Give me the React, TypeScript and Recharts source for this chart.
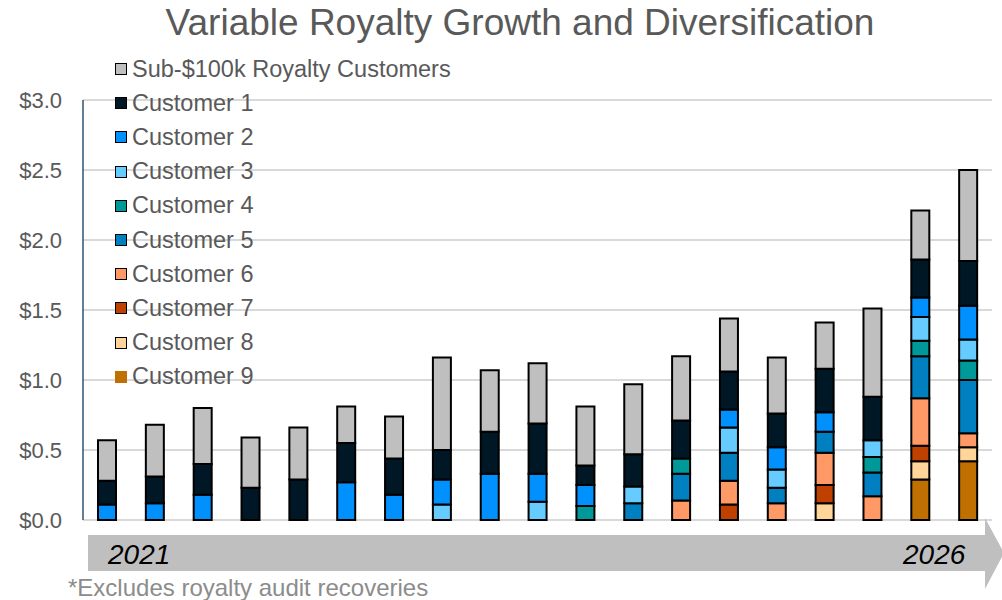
import React from 'react';
import { BarChart, Bar, XAxis, YAxis, CartesianGrid } from 'recharts';

// $M per period, 19 periods from 2021 to 2026
const periods = ['P1', 'P2', 'P3', 'P4', 'P5', 'P6', 'P7', 'P8', 'P9', 'P10', 'P11', 'P12', 'P13', 'P14', 'P15', 'P16', 'P17', 'P18', 'P19'];

const customer9 = [0, 0, 0, 0, 0, 0, 0, 0, 0, 0, 0, 0, 0, 0, 0, 0, 0, 0.29, 0.42];
const customer8 = [0, 0, 0, 0, 0, 0, 0, 0, 0, 0, 0, 0, 0, 0, 0, 0.12, 0, 0.13, 0.10];
const customer7 = [0, 0, 0, 0, 0, 0, 0, 0, 0, 0, 0, 0, 0, 0.11, 0, 0.13, 0, 0.11, 0];
const customer6 = [0, 0, 0, 0, 0, 0, 0, 0, 0, 0, 0, 0, 0.14, 0.17, 0.12, 0.23, 0.17, 0.34, 0.10];
const customer5 = [0, 0, 0, 0, 0, 0, 0, 0, 0, 0, 0, 0.12, 0.19, 0.20, 0.11, 0.15, 0.17, 0.30, 0.38];
const customer4 = [0, 0, 0, 0, 0, 0, 0, 0, 0, 0, 0.10, 0, 0.11, 0, 0, 0, 0.11, 0.11, 0.14];
const customer3 = [0, 0, 0, 0, 0, 0, 0, 0.11, 0, 0.13, 0, 0.12, 0, 0.18, 0.13, 0, 0.12, 0.17, 0.15];
const customer2 = [0.11, 0.12, 0.18, 0, 0, 0.27, 0.18, 0.18, 0.33, 0.20, 0.15, 0, 0, 0.13, 0.16, 0.14, 0, 0.14, 0.24];
const customer1 = [0.17, 0.19, 0.22, 0.23, 0.29, 0.28, 0.26, 0.21, 0.30, 0.36, 0.14, 0.23, 0.27, 0.27, 0.24, 0.31, 0.31, 0.27, 0.32];
const subCustomers = [0.29, 0.37, 0.40, 0.36, 0.37, 0.26, 0.30, 0.66, 0.44, 0.43, 0.42, 0.50, 0.46, 0.38, 0.40, 0.33, 0.63, 0.35, 0.65];

const yTicks = [0, 0.5, 1, 1.5, 2, 2.5, 3];

// stacking order, bottom to top
const series = [
  { key: 'c9', name: 'Customer 9', values: customer9, color: '#C07000' },
  { key: 'c8', name: 'Customer 8', values: customer8, color: '#FFD599' },
  { key: 'c7', name: 'Customer 7', values: customer7, color: '#C04000' },
  { key: 'c6', name: 'Customer 6', values: customer6, color: '#FF9966' },
  { key: 'c5', name: 'Customer 5', values: customer5, color: '#0080C0' },
  { key: 'c4', name: 'Customer 4', values: customer4, color: '#009999' },
  { key: 'c3', name: 'Customer 3', values: customer3, color: '#66CCFF' },
  { key: 'c2', name: 'Customer 2', values: customer2, color: '#0091FF' },
  { key: 'c1', name: 'Customer 1', values: customer1, color: '#001726' },
  { key: 'sub', name: 'Sub-$100k Royalty Customers', values: subCustomers, color: '#BFBFBF' },
];

const data = periods.map((p, i) => {
  const row: any = { period: p };
  series.forEach(s => { row[s.key] = s.values[i]; });
  return row;
});

const FONT = '"Liberation Sans", Arial, sans-serif';

const LegendList = () => (
  <div style={{ position: 'absolute', top: 52, left: 115, fontFamily: FONT, fontSize: 23.5, color: '#595959' }}>
    {[...series].reverse().map(s => (
      <div key={s.key} style={{ display: 'flex', alignItems: 'center', height: 34.2 }}>
        <span style={{
          width: 10, height: 10, background: s.color, marginRight: 5,
          border: s.key === 'c9' ? '1.5px solid ' + s.color : '1.5px solid #000',
        }} />
        <span>{s.name}</span>
      </div>
    ))}
  </div>
);

export default function App() {
  return (
    <div style={{ position: 'absolute', left: 0, top: 0, width: 1002, height: 600, background: '#fff', fontFamily: FONT }}>
      <BarChart width={1002} height={600} data={data} margin={{ top: 100, right: 10, bottom: 80, left: 0 }} barSize={18}>
        <CartesianGrid vertical={false} stroke="#d9d9d9" strokeWidth={2} />
        <XAxis dataKey="period" hide />
        <YAxis
          width={83}
          domain={[0, 3]}
          ticks={yTicks}
          tickFormatter={(v: number) => `$${v.toFixed(1)}`}
          tick={{ fill: '#595959', fontSize: 22, fontFamily: FONT }}
          tickLine={false}
          tickMargin={15}
          axisLine={{ stroke: '#2E5575', strokeWidth: 1.5 }}
        />
        {series.map(s => (
          <Bar key={s.key} dataKey={s.key} name={s.name} stackId="a" fill={s.color} stroke="#000" strokeWidth={2} isAnimationActive={false} />
        ))}
      </BarChart>
      <div style={{ position: 'absolute', top: 2, left: 0, width: 1040, textAlign: 'center', fontSize: 37, color: '#595959' }}>
        Variable Royalty Growth and Diversification
      </div>
      <LegendList />
      <svg width={1002} height={600} style={{ position: 'absolute', left: 0, top: 0, pointerEvents: 'none' }}>
        <polygon points="88,535 985,535 985,518 1004,553 985,589 985,571 88,571" fill="#BFBFBF" />
        <text x={108} y={564} fontSize={28} fontStyle="italic" fill="#000" fontFamily={FONT}>2021</text>
        <text x={903} y={564} fontSize={28} fontStyle="italic" fill="#000" fontFamily={FONT}>2026</text>
        <text x={68} y={596} fontSize={24} fill="#8C8C8C" fontFamily={FONT}>*Excludes royalty audit recoveries</text>
      </svg>
    </div>
  );
}
